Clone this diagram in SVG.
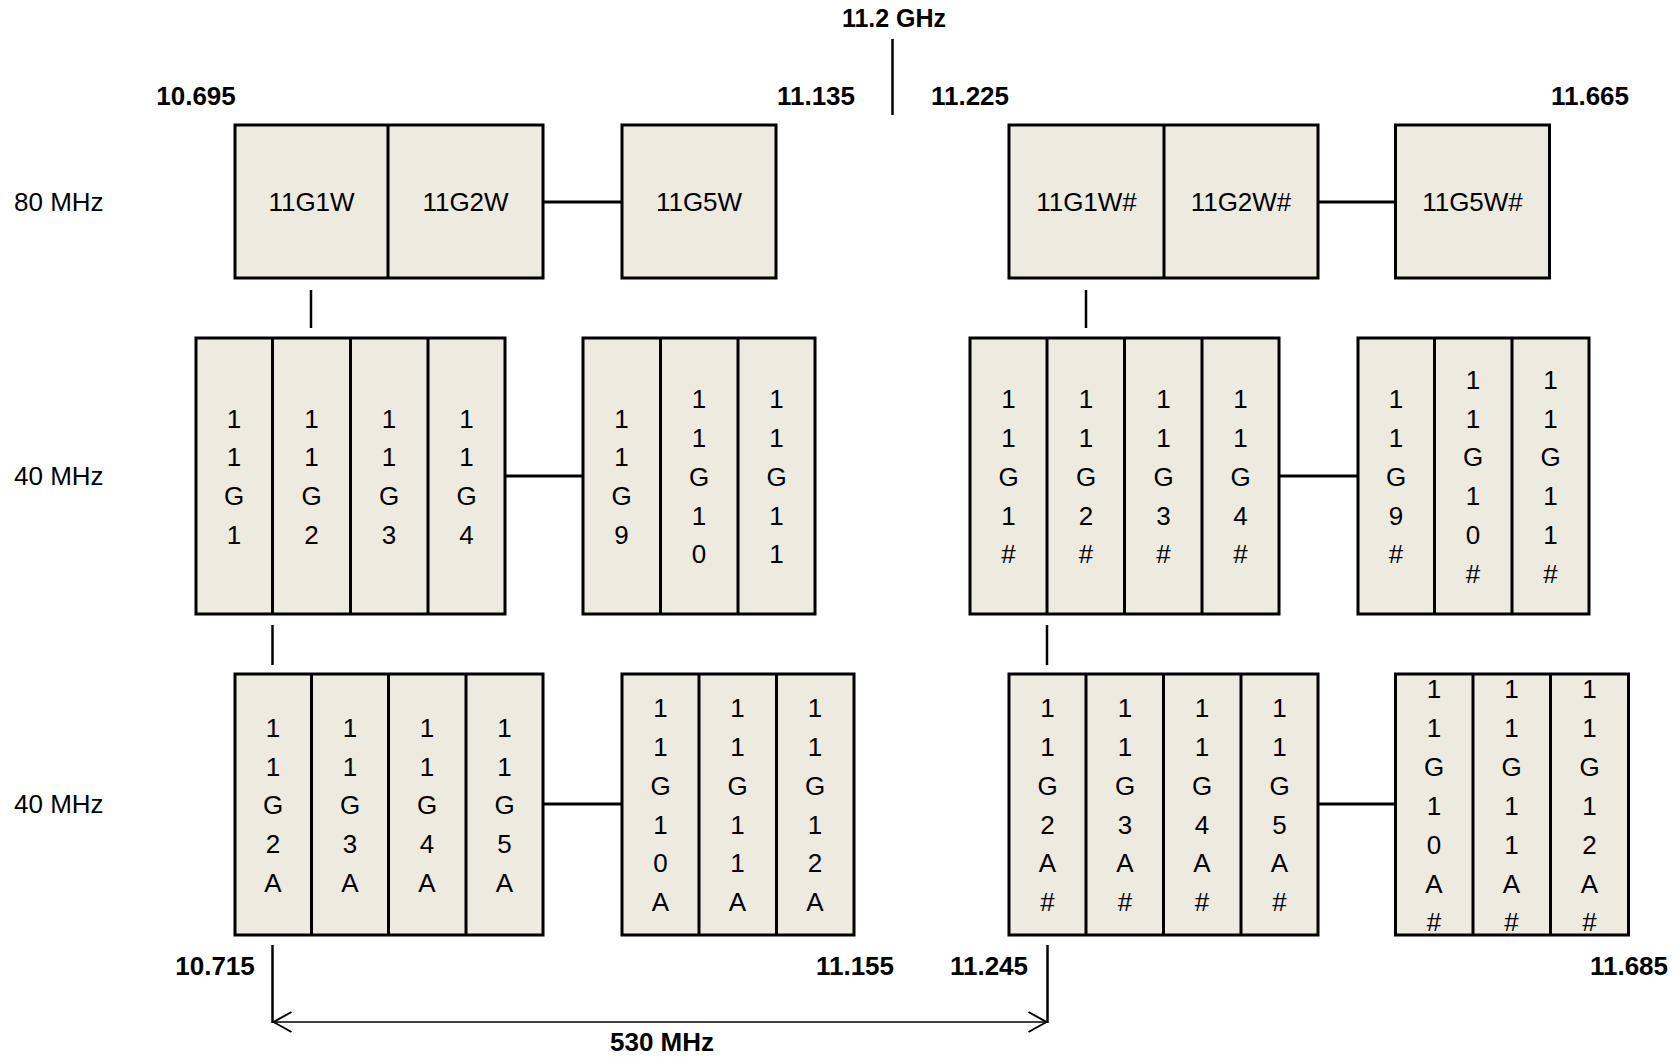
<svg xmlns="http://www.w3.org/2000/svg" width="1678" height="1057" viewBox="0 0 1678 1057">
<style>
.box{fill:#EDEAE0;stroke:#000;stroke-width:3}
.div{stroke:#000;stroke-width:3}
.con{stroke:#000;stroke-width:3;fill:none}
.tick{stroke:#000;stroke-width:2.5;fill:none}
.dim{stroke:#000;stroke-width:1.5;fill:none}
.t{font-family:"Liberation Sans",Arial,sans-serif;font-size:26px;fill:#000;text-anchor:middle}
.lab{font-family:"Liberation Sans",Arial,sans-serif;font-size:26px;fill:#000}
.b{font-family:"Liberation Sans",Arial,sans-serif;font-size:26px;font-weight:bold;fill:#000;text-anchor:middle}
</style>
<defs>
<marker id="open" viewBox="0 0 20 22" refX="19" refY="11" markerWidth="20" markerHeight="22" markerUnits="userSpaceOnUse" orient="auto-start-reverse">
<polyline points="1,1 19,11 1,21" fill="none" stroke="#000" stroke-width="2"/>
</marker>
</defs>
<rect width="1678" height="1057" fill="#fff"/>

<!-- side labels -->
<g id="labels">
<text class="lab" x="14" y="211">80 MHz</text>
<text class="lab" x="14" y="485">40 MHz</text>
<text class="lab" x="14" y="813">40 MHz</text>
<text class="b" x="894" y="27" style="font-size:25px">11.2 GHz</text>
<text class="b" x="196" y="105">10.695</text>
<text class="b" x="816" y="105">11.135</text>
<text class="b" x="970" y="105">11.225</text>
<text class="b" x="1590" y="105">11.665</text>
<text class="b" x="215" y="975">10.715</text>
<text class="b" x="855" y="975">11.155</text>
<text class="b" x="989" y="975">11.245</text>
<text class="b" x="1629" y="975">11.685</text>
<text class="b" x="662" y="1051">530 MHz</text>
</g>

<g id="connectors">
<line class="con" x1="543" y1="202" x2="622" y2="202"/>
<line class="con" x1="1318" y1="202" x2="1395" y2="202"/>
<line class="con" x1="505" y1="476" x2="583" y2="476"/>
<line class="con" x1="1279" y1="476" x2="1358" y2="476"/>
<line class="con" x1="543" y1="804" x2="622" y2="804"/>
<line class="con" x1="1318" y1="804" x2="1395" y2="804"/>
<line class="tick" x1="311" y1="290" x2="311" y2="328"/>
<line class="tick" x1="1086" y1="290" x2="1086" y2="328"/>
<line class="tick" x1="272.5" y1="625" x2="272.5" y2="665"/>
<line class="tick" x1="1047" y1="625" x2="1047" y2="665"/>
<line class="tick" x1="892.5" y1="39" x2="892.5" y2="115"/>
<line class="tick" x1="272.5" y1="945" x2="272.5" y2="1023"/>
<line class="tick" x1="1047.5" y1="945" x2="1047.5" y2="1023"/>
<line class="dim" x1="273.5" y1="1022" x2="1046.5" y2="1022" marker-start="url(#open)" marker-end="url(#open)"/>
</g>

<!-- Top row 80 MHz -->
<g id="g80L">
<rect class="box" x="235" y="125" width="308" height="153"/>
<line class="div" x1="388" y1="125" x2="388" y2="278"/>
<text class="t" x="311.5" y="211">11G1W</text>
<text class="t" x="465.5" y="211">11G2W</text>
</g>
<g id="g80L5">
<rect class="box" x="622" y="125" width="154" height="153"/>
<text class="t" x="699" y="211">11G5W</text>
</g>
<g id="g80R">
<rect class="box" x="1009" y="125" width="309" height="153"/>
<line class="div" x1="1164" y1="125" x2="1164" y2="278"/>
<text class="t" x="1086.5" y="211">11G1W#</text>
<text class="t" x="1241" y="211">11G2W#</text>
</g>
<g id="g80R5">
<rect class="box" x="1395.5" y="125" width="154" height="153"/>
<text class="t" x="1472.5" y="211">11G5W#</text>
</g>

<!-- Middle row 40 MHz -->
<g id="g40L">
<rect class="box" x="196" y="338" width="309" height="276"/>
<line class="div" x1="272.5" y1="338" x2="272.5" y2="614"/>
<line class="div" x1="350.5" y1="338" x2="350.5" y2="614"/>
<line class="div" x1="428" y1="338" x2="428" y2="614"/>
<text class="t" y="427.7"><tspan x="234">1</tspan><tspan x="234" dy="38.75">1</tspan><tspan x="234" dy="38.75">G</tspan><tspan x="234" dy="38.75">1</tspan></text>
<text class="t" y="427.7"><tspan x="311.5">1</tspan><tspan x="311.5" dy="38.75">1</tspan><tspan x="311.5" dy="38.75">G</tspan><tspan x="311.5" dy="38.75">2</tspan></text>
<text class="t" y="427.7"><tspan x="389">1</tspan><tspan x="389" dy="38.75">1</tspan><tspan x="389" dy="38.75">G</tspan><tspan x="389" dy="38.75">3</tspan></text>
<text class="t" y="427.7"><tspan x="466.5">1</tspan><tspan x="466.5" dy="38.75">1</tspan><tspan x="466.5" dy="38.75">G</tspan><tspan x="466.5" dy="38.75">4</tspan></text>
</g>
<g id="g40L9">
<rect class="box" x="583" y="338" width="232" height="276"/>
<line class="div" x1="660.5" y1="338" x2="660.5" y2="614"/>
<line class="div" x1="738" y1="338" x2="738" y2="614"/>
<text class="t" y="427.7"><tspan x="621.5">1</tspan><tspan x="621.5" dy="38.75">1</tspan><tspan x="621.5" dy="38.75">G</tspan><tspan x="621.5" dy="38.75">9</tspan></text>
<text class="t" y="408.3"><tspan x="699">1</tspan><tspan x="699" dy="38.75">1</tspan><tspan x="699" dy="38.75">G</tspan><tspan x="699" dy="38.75">1</tspan><tspan x="699" dy="38.75">0</tspan></text>
<text class="t" y="408.3"><tspan x="776.5">1</tspan><tspan x="776.5" dy="38.75">1</tspan><tspan x="776.5" dy="38.75">G</tspan><tspan x="776.5" dy="38.75">1</tspan><tspan x="776.5" dy="38.75">1</tspan></text>
</g>
<g id="g40R">
<rect class="box" x="970" y="338" width="309" height="276"/>
<line class="div" x1="1047" y1="338" x2="1047" y2="614"/>
<line class="div" x1="1124.5" y1="338" x2="1124.5" y2="614"/>
<line class="div" x1="1202" y1="338" x2="1202" y2="614"/>
<text class="t" y="408.3"><tspan x="1008.5">1</tspan><tspan x="1008.5" dy="38.75">1</tspan><tspan x="1008.5" dy="38.75">G</tspan><tspan x="1008.5" dy="38.75">1</tspan><tspan x="1008.5" dy="38.75">#</tspan></text>
<text class="t" y="408.3"><tspan x="1086">1</tspan><tspan x="1086" dy="38.75">1</tspan><tspan x="1086" dy="38.75">G</tspan><tspan x="1086" dy="38.75">2</tspan><tspan x="1086" dy="38.75">#</tspan></text>
<text class="t" y="408.3"><tspan x="1163.5">1</tspan><tspan x="1163.5" dy="38.75">1</tspan><tspan x="1163.5" dy="38.75">G</tspan><tspan x="1163.5" dy="38.75">3</tspan><tspan x="1163.5" dy="38.75">#</tspan></text>
<text class="t" y="408.3"><tspan x="1240.5">1</tspan><tspan x="1240.5" dy="38.75">1</tspan><tspan x="1240.5" dy="38.75">G</tspan><tspan x="1240.5" dy="38.75">4</tspan><tspan x="1240.5" dy="38.75">#</tspan></text>
</g>
<g id="g40R9">
<rect class="box" x="1358" y="338" width="231" height="276"/>
<line class="div" x1="1434.5" y1="338" x2="1434.5" y2="614"/>
<line class="div" x1="1512" y1="338" x2="1512" y2="614"/>
<text class="t" y="408.3"><tspan x="1396">1</tspan><tspan x="1396" dy="38.75">1</tspan><tspan x="1396" dy="38.75">G</tspan><tspan x="1396" dy="38.75">9</tspan><tspan x="1396" dy="38.75">#</tspan></text>
<text class="t" y="388.9"><tspan x="1473">1</tspan><tspan x="1473" dy="38.75">1</tspan><tspan x="1473" dy="38.75">G</tspan><tspan x="1473" dy="38.75">1</tspan><tspan x="1473" dy="38.75">0</tspan><tspan x="1473" dy="38.75">#</tspan></text>
<text class="t" y="388.9"><tspan x="1550.5">1</tspan><tspan x="1550.5" dy="38.75">1</tspan><tspan x="1550.5" dy="38.75">G</tspan><tspan x="1550.5" dy="38.75">1</tspan><tspan x="1550.5" dy="38.75">1</tspan><tspan x="1550.5" dy="38.75">#</tspan></text>
</g>

<!-- Bottom row 40 MHz -->
<g id="g40AL">
<rect class="box" x="235" y="674" width="308" height="261"/>
<line class="div" x1="311.5" y1="674" x2="311.5" y2="935"/>
<line class="div" x1="388.5" y1="674" x2="388.5" y2="935"/>
<line class="div" x1="466" y1="674" x2="466" y2="935"/>
<text class="t" y="736.8"><tspan x="273">1</tspan><tspan x="273" dy="38.75">1</tspan><tspan x="273" dy="38.75">G</tspan><tspan x="273" dy="38.75">2</tspan><tspan x="273" dy="38.75">A</tspan></text>
<text class="t" y="736.8"><tspan x="350">1</tspan><tspan x="350" dy="38.75">1</tspan><tspan x="350" dy="38.75">G</tspan><tspan x="350" dy="38.75">3</tspan><tspan x="350" dy="38.75">A</tspan></text>
<text class="t" y="736.8"><tspan x="427">1</tspan><tspan x="427" dy="38.75">1</tspan><tspan x="427" dy="38.75">G</tspan><tspan x="427" dy="38.75">4</tspan><tspan x="427" dy="38.75">A</tspan></text>
<text class="t" y="736.8"><tspan x="504.5">1</tspan><tspan x="504.5" dy="38.75">1</tspan><tspan x="504.5" dy="38.75">G</tspan><tspan x="504.5" dy="38.75">5</tspan><tspan x="504.5" dy="38.75">A</tspan></text>
</g>
<g id="g40AL10">
<rect class="box" x="622" y="674" width="232" height="261"/>
<line class="div" x1="699" y1="674" x2="699" y2="935"/>
<line class="div" x1="776.5" y1="674" x2="776.5" y2="935"/>
<text class="t" y="717.4"><tspan x="660.5">1</tspan><tspan x="660.5" dy="38.75">1</tspan><tspan x="660.5" dy="38.75">G</tspan><tspan x="660.5" dy="38.75">1</tspan><tspan x="660.5" dy="38.75">0</tspan><tspan x="660.5" dy="38.75">A</tspan></text>
<text class="t" y="717.4"><tspan x="737.5">1</tspan><tspan x="737.5" dy="38.75">1</tspan><tspan x="737.5" dy="38.75">G</tspan><tspan x="737.5" dy="38.75">1</tspan><tspan x="737.5" dy="38.75">1</tspan><tspan x="737.5" dy="38.75">A</tspan></text>
<text class="t" y="717.4"><tspan x="815">1</tspan><tspan x="815" dy="38.75">1</tspan><tspan x="815" dy="38.75">G</tspan><tspan x="815" dy="38.75">1</tspan><tspan x="815" dy="38.75">2</tspan><tspan x="815" dy="38.75">A</tspan></text>
</g>
<g id="g40AR">
<rect class="box" x="1009" y="674" width="309" height="261"/>
<line class="div" x1="1086" y1="674" x2="1086" y2="935"/>
<line class="div" x1="1163.5" y1="674" x2="1163.5" y2="935"/>
<line class="div" x1="1241" y1="674" x2="1241" y2="935"/>
<text class="t" y="717.4"><tspan x="1047.5">1</tspan><tspan x="1047.5" dy="38.75">1</tspan><tspan x="1047.5" dy="38.75">G</tspan><tspan x="1047.5" dy="38.75">2</tspan><tspan x="1047.5" dy="38.75">A</tspan><tspan x="1047.5" dy="38.75">#</tspan></text>
<text class="t" y="717.4"><tspan x="1125">1</tspan><tspan x="1125" dy="38.75">1</tspan><tspan x="1125" dy="38.75">G</tspan><tspan x="1125" dy="38.75">3</tspan><tspan x="1125" dy="38.75">A</tspan><tspan x="1125" dy="38.75">#</tspan></text>
<text class="t" y="717.4"><tspan x="1202">1</tspan><tspan x="1202" dy="38.75">1</tspan><tspan x="1202" dy="38.75">G</tspan><tspan x="1202" dy="38.75">4</tspan><tspan x="1202" dy="38.75">A</tspan><tspan x="1202" dy="38.75">#</tspan></text>
<text class="t" y="717.4"><tspan x="1279.5">1</tspan><tspan x="1279.5" dy="38.75">1</tspan><tspan x="1279.5" dy="38.75">G</tspan><tspan x="1279.5" dy="38.75">5</tspan><tspan x="1279.5" dy="38.75">A</tspan><tspan x="1279.5" dy="38.75">#</tspan></text>
</g>
<g id="g40AR10">
<rect class="box" x="1395.5" y="674" width="233" height="261"/>
<line class="div" x1="1473" y1="674" x2="1473" y2="935"/>
<line class="div" x1="1550.5" y1="674" x2="1550.5" y2="935"/>
<text class="t" y="698"><tspan x="1434">1</tspan><tspan x="1434" dy="38.9">1</tspan><tspan x="1434" dy="38.9">G</tspan><tspan x="1434" dy="38.9">1</tspan><tspan x="1434" dy="38.9">0</tspan><tspan x="1434" dy="38.9">A</tspan><tspan x="1434" dy="38.9">#</tspan></text>
<text class="t" y="698"><tspan x="1511.5">1</tspan><tspan x="1511.5" dy="38.9">1</tspan><tspan x="1511.5" dy="38.9">G</tspan><tspan x="1511.5" dy="38.9">1</tspan><tspan x="1511.5" dy="38.9">1</tspan><tspan x="1511.5" dy="38.9">A</tspan><tspan x="1511.5" dy="38.9">#</tspan></text>
<text class="t" y="698"><tspan x="1589.5">1</tspan><tspan x="1589.5" dy="38.9">1</tspan><tspan x="1589.5" dy="38.9">G</tspan><tspan x="1589.5" dy="38.9">1</tspan><tspan x="1589.5" dy="38.9">2</tspan><tspan x="1589.5" dy="38.9">A</tspan><tspan x="1589.5" dy="38.9">#</tspan></text>
</g>
</svg>
